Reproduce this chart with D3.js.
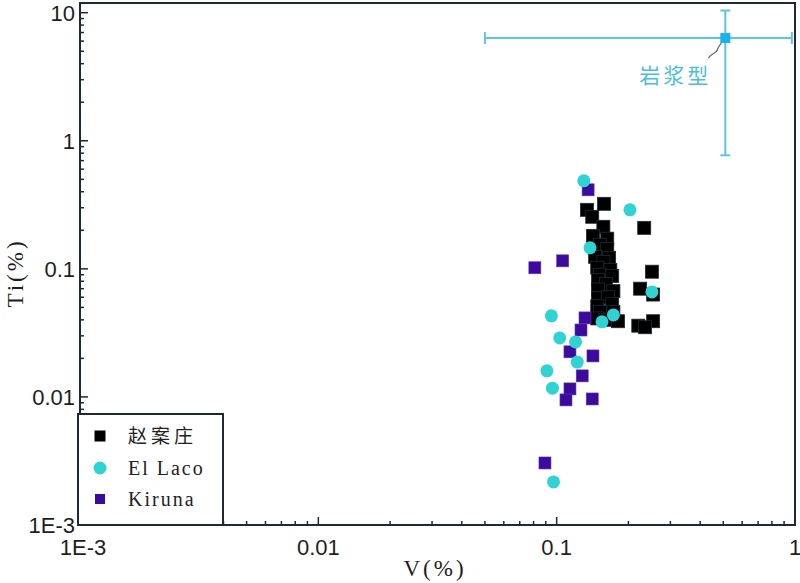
<!DOCTYPE html>
<html>
<head>
<meta charset="utf-8">
<script src="https://cdn.jsdelivr.net/npm/d3@7"></script>
<style>
  body { margin: 0; background: #fff; }
  svg { display: block; }
  .sans { font-family: "Liberation Sans", Arimo, Arial, "DejaVu Sans", sans-serif; }
  .serif { font-family: "Liberation Serif", Tinos, "Times New Roman", "DejaVu Serif", "Noto Sans CJK SC", serif; }
  .cjk { font-family: "Noto Sans CJK SC", sans-serif; }
</style>
</head>
<body>
<svg id="chart" width="800" height="583"></svg>
<script>
// 赵案庄 (black squares)  [V%, Ti%]
var zhaoV  = [0.158, 0.134, 0.141, 0.157, 0.233, 0.142, 0.163, 0.152, 0.163, 0.145, 0.166, 0.157,
              0.148, 0.168, 0.251, 0.152, 0.171, 0.149, 0.161, 0.224, 0.149, 0.173, 0.254, 0.149,
              0.164, 0.148, 0.171, 0.152, 0.173, 0.148, 0.160, 0.181, 0.254, 0.220, 0.235];
var zhaoTi = [0.322, 0.289, 0.255, 0.213, 0.209, 0.181, 0.172, 0.154, 0.143, 0.124, 0.122, 0.113,
              0.102, 0.098, 0.095, 0.090, 0.088, 0.082, 0.076, 0.070, 0.069, 0.067, 0.063, 0.059,
              0.060, 0.051, 0.053, 0.046, 0.046, 0.041, 0.040, 0.039, 0.039, 0.036, 0.035];

// El Laco (cyan circles)
var lacoV  = [0.130, 0.203, 0.138, 0.251, 0.095, 0.173, 0.155, 0.103, 0.120, 0.122, 0.091, 0.096, 0.097];
var lacoTi = [0.487, 0.289, 0.146, 0.066, 0.043, 0.0437, 0.0386, 0.0289, 0.0269, 0.0187, 0.0160, 0.0117, 0.00217];

// Kiruna (purple squares)
var kirV  = [0.1355, 0.081, 0.106, 0.1315, 0.1265, 0.1137, 0.142, 0.128, 0.1137, 0.1094, 0.141, 0.0893];
var kirTi = [0.414, 0.102, 0.1155, 0.0414, 0.0333, 0.0225, 0.0209, 0.0146, 0.01155, 0.00948, 0.00964, 0.00305];

// 岩浆型 reference point with ranges
var magmaV = 0.51, magmaVRange = [0.05, 0.97];
var magmaTi = 6.34, magmaTiRange = [0.77, 10.4];

var xTicks = [0.001, 0.01, 0.1, 1];
var xTickLabels = ["1E-3", "0.01", "0.1", "1"];
var yTicks = [0.001, 0.01, 0.1, 1, 10];
var yTickLabels = ["1E-3", "0.01", "0.1", "1", "10"];

var svg = d3.select("#chart");
var axisColor = "#1c2a31";
var pLeft = 80, pRight = 795, pTop = 3, pBottom = 525;

var x = d3.scaleLog().domain([0.001, 1]).range([pLeft, pRight]);
var y = d3.scaleLog().domain([0.001, 10]).range([pBottom, 12.7]);

// minor ticks
function minors(lo, hi) {
    var out = [];
    for (var e = lo; e < hi; e++) {
        for (var m = 2; m <= 9; m++) out.push(m * Math.pow(10, e));
    }
    return out;
}

// frame
svg.append("path")
    .attr("d", "M" + pLeft + "," + pBottom + "V" + pTop + "H" + pRight + "V" + pBottom + "Z")
    .attr("fill", "none")
    .attr("stroke", axisColor)
    .attr("stroke-width", 2);

// x ticks (inward)
svg.append("g").selectAll("line")
    .data(minors(-3, 0))
    .enter().append("line")
    .attr("x1", function(d) { return x(d); }).attr("x2", function(d) { return x(d); })
    .attr("y1", pBottom).attr("y2", pBottom - 4)
    .attr("stroke", axisColor).attr("stroke-width", 1.5);
svg.append("g").selectAll("line")
    .data(xTicks)
    .enter().append("line")
    .attr("x1", function(d) { return x(d); }).attr("x2", function(d) { return x(d); })
    .attr("y1", pBottom).attr("y2", pBottom - 8)
    .attr("stroke", axisColor).attr("stroke-width", 1.5);
svg.append("g").selectAll("text")
    .data(xTicks)
    .enter().append("text")
    .attr("class", "sans")
    .attr("x", function(d, i) { return x(d) + (i == 0 ? 3 : 0); })
    .attr("y", 555)
    .attr("text-anchor", "middle")
    .attr("font-size", 22)
    .attr("fill", "#1e1e1e")
    .text(function(d, i) { return xTickLabels[i]; });

// y ticks (inward)
svg.append("g").selectAll("line")
    .data(minors(-3, 1))
    .enter().append("line")
    .attr("y1", function(d) { return y(d); }).attr("y2", function(d) { return y(d); })
    .attr("x1", pLeft).attr("x2", pLeft + 4)
    .attr("stroke", axisColor).attr("stroke-width", 1.5);
svg.append("g").selectAll("line")
    .data(yTicks)
    .enter().append("line")
    .attr("y1", function(d) { return y(d); }).attr("y2", function(d) { return y(d); })
    .attr("x1", pLeft).attr("x2", pLeft + 8)
    .attr("stroke", axisColor).attr("stroke-width", 1.5);
svg.append("g").selectAll("text")
    .data(yTicks)
    .enter().append("text")
    .attr("class", "sans")
    .attr("x", 75)
    .attr("y", function(d) { return y(d) + 8; })
    .attr("text-anchor", "end")
    .attr("font-size", 22)
    .attr("fill", "#1e1e1e")
    .text(function(d, i) { return yTickLabels[i]; });

// axis titles
svg.append("text")
    .attr("class", "serif")
    .attr("x", 435).attr("y", 576)
    .attr("text-anchor", "middle")
    .attr("font-size", 23)
    .attr("letter-spacing", 3)
    .attr("fill", "#1e1e1e")
    .text("V(%)");
svg.append("text")
    .attr("class", "serif")
    .attr("transform", "translate(23,273) rotate(-90)")
    .attr("text-anchor", "middle")
    .attr("font-size", 23)
    .attr("letter-spacing", 3)
    .attr("fill", "#1e1e1e")
    .text("Ti(%)");

// 岩浆型 error bars
var eb = svg.append("g").attr("stroke", "#5cc6df").attr("stroke-width", 2);
var mx = x(magmaV), my = y(magmaTi);
eb.append("line").attr("x1", x(magmaVRange[0])).attr("x2", x(magmaVRange[1])).attr("y1", my).attr("y2", my);
eb.append("line").attr("x1", mx).attr("x2", mx).attr("y1", y(magmaTiRange[0])).attr("y2", y(magmaTiRange[1]));
magmaVRange.forEach(function(v) {
    eb.append("line").attr("x1", x(v)).attr("x2", x(v)).attr("y1", my - 6).attr("y2", my + 6);
});
magmaTiRange.forEach(function(v) {
    eb.append("line").attr("x1", mx - 5).attr("x2", mx + 5).attr("y1", y(v)).attr("y2", y(v));
});
svg.append("rect")
    .attr("x", mx - 5).attr("y", my - 5).attr("width", 10).attr("height", 10)
    .attr("fill", "#17b4ec");
svg.append("path")
    .attr("d", "M" + (mx - 4) + "," + (my + 5) + " C" + (mx - 10) + "," + (my + 12) + " " + (mx - 6) + "," + (my + 12) + " " + (mx - 11) + "," + (my + 15)
        + " S" + (mx - 16) + "," + (my + 19) + " " + (mx - 17) + "," + (my + 20))
    .attr("fill", "none").attr("stroke", "#5a6a72").attr("stroke-width", 1.2);
svg.append("text")
    .attr("class", "cjk")
    .attr("x", mx - 50).attr("y", my + 45)
    .attr("text-anchor", "middle")
    .attr("font-size", 21)
    .attr("letter-spacing", 3)
    .attr("fill", "#4dbddc")
    .text("岩浆型");

// data
function zip(a, b) { return a.map(function(v, i) { return [v, b[i]]; }); }

svg.append("g").selectAll("rect")
    .data(zip(zhaoV, zhaoTi))
    .enter().append("rect")
    .attr("x", function(d) { return x(d[0]) - 6.5; })
    .attr("y", function(d) { return y(d[1]) - 6.5; })
    .attr("width", 13).attr("height", 13)
    .attr("fill", "#000")
    .attr("stroke", "#1d2a30").attr("stroke-width", 0.8);

svg.append("g").selectAll("rect")
    .data(zip(kirV, kirTi))
    .enter().append("rect")
    .attr("x", function(d) { return x(d[0]) - 6; })
    .attr("y", function(d) { return y(d[1]) - 6; })
    .attr("width", 12).attr("height", 12)
    .attr("fill", "#3c0a9c")
    .attr("stroke", "#5a3ab0").attr("stroke-width", 0.6);

svg.append("g").selectAll("circle")
    .data(zip(lacoV, lacoTi))
    .enter().append("circle")
    .attr("cx", function(d) { return x(d[0]); })
    .attr("cy", function(d) { return y(d[1]); })
    .attr("r", 6.5)
    .attr("fill", "#2fd3d3");

// legend
var lg = svg.append("g");
lg.append("rect")
    .attr("x", pLeft - 2).attr("y", 414).attr("width", 145).attr("height", pBottom - 414)
    .attr("fill", "#fff").attr("stroke", axisColor).attr("stroke-width", 2);
var legendNames = ["赵案庄", "El Laco", "Kiruna"];
var legendY = [436, 468, 499];
lg.append("rect").attr("x", 94.5).attr("y", legendY[0] - 5.5).attr("width", 11).attr("height", 11).attr("fill", "#000");
lg.append("circle").attr("cx", 100).attr("cy", legendY[1]).attr("r", 6.5).attr("fill", "#2fd3d3");
lg.append("rect").attr("x", 95).attr("y", legendY[2] - 5).attr("width", 10).attr("height", 10).attr("fill", "#3c0a9c");
lg.selectAll("text")
    .data(legendNames)
    .enter().append("text")
    .attr("class", "serif")
    .attr("x", 128)
    .attr("y", function(d, i) { return legendY[i] + 7; })
    .attr("font-size", function(d, i) { return i == 0 ? 19 : 20; })
    .attr("letter-spacing", function(d, i) { return i == 0 ? 4 : 2; })
    .attr("fill", "#222")
    .text(function(d) { return d; });
</script>
</body>
</html>
